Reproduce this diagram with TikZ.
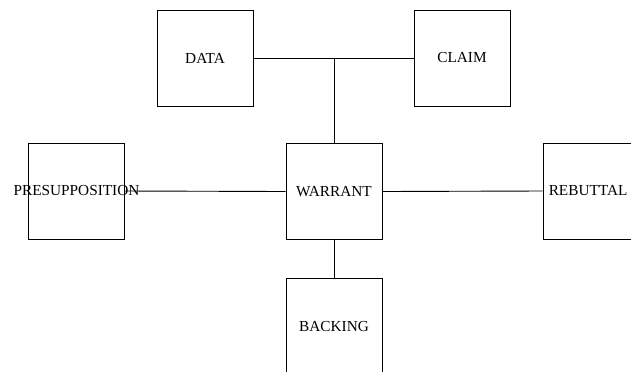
\documentclass[tikz,border=0pt]{standalone}
\usepackage{fontspec}
\setmainfont{Liberation Serif}
\begin{document}
\begin{tikzpicture}[x=1bp,y=-1bp,
  box/.style={draw,line width=0.9bp,minimum width=96bp,minimum height=96bp,inner sep=0pt},
  lbl/.style={font=\fontsize{15.3bp}{18bp}\selectfont,inner sep=0pt},
  conn/.style={line width=0.9bp}]
\useasboundingbox (0,0) rectangle (631,371);
\clip (0,0) rectangle (631,371);
\node[box] (data) at (205,58) {};
\node[box] (claim) at (462,58) {};
\node[box] (pre) at (76.5,191) {};
\node[box] (warrant) at (334,191.5) {};
\node[box] (rebuttal) at (591,191) {};
\node[box] (backing) at (334,326) {};
\node[lbl] (datat) at (data) {DATA};
\node[lbl] (claimt) at (claim) {CLAIM};
\node[lbl] (pret) at (pre) {PRESUPPOSITION};
\node[lbl] (warrantt) at (warrant) {WARRANT};
\node[lbl,anchor=west] (rebuttalt) at ([xshift=6bp]rebuttal.west) {REBUTTAL};
\node[lbl] (backingt) at (backing) {BACKING};
\coordinate (j) at (warrant.north |- data.east);
\draw[conn] (data.east) -- (claim.west);
\draw[conn] (j) -- (warrant.north);
\draw[conn] (pre.east) -- (warrant.west);
\draw[conn] (warrant.east) -- (rebuttal.west);
\draw[conn] (warrant.south) -- (backing.north);
\end{tikzpicture}
\end{document}
